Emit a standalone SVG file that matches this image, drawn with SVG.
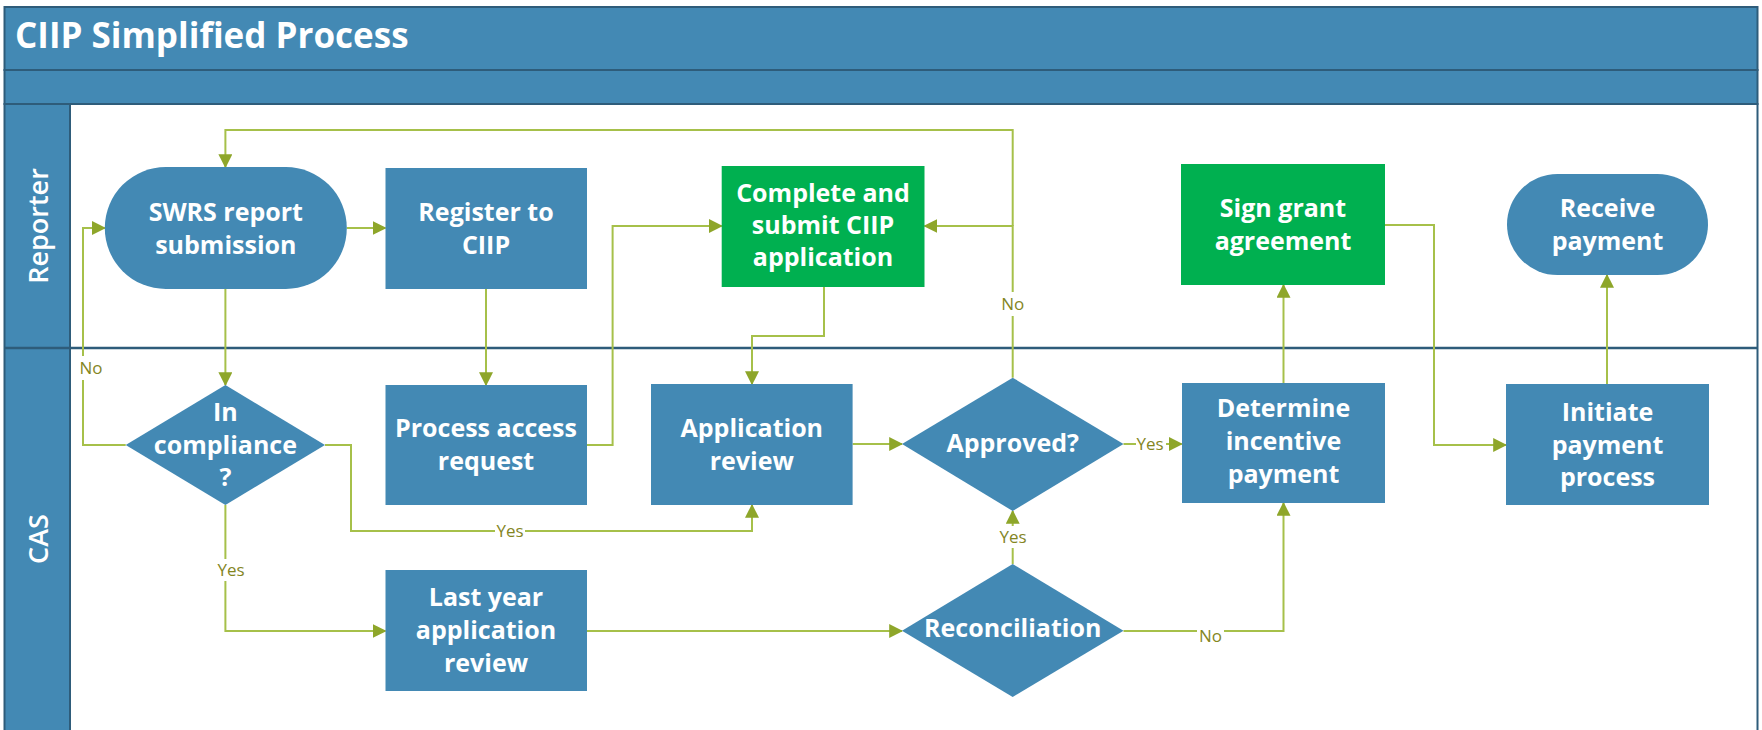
<svg xmlns="http://www.w3.org/2000/svg" width="1762" height="730" viewBox="0 0 1762 730">
<style>
.band{fill:#4389B4;stroke:#2E5C7A;stroke-width:2}
.node{fill:#4389B4}
.green{fill:#00B050}
.nt{font-family:"Open Sans","Liberation Sans",sans-serif;font-weight:bold;font-size:25px;fill:#fff;text-anchor:middle}
.lane{font-family:"Open Sans","Liberation Sans",sans-serif;font-weight:600;font-size:27px;fill:#fff;text-anchor:middle}
.title{font-family:"Open Sans","Liberation Sans",sans-serif;font-weight:bold;font-size:35px;fill:#fff}
.c{fill:none;stroke:#A6C04A;stroke-width:2}
.lbl{font-family:"Open Sans","Liberation Sans",sans-serif;font-size:17px;fill:#84861F;text-anchor:middle}
.lb{fill:#fff}
</style>
<defs>
<marker id="arr" markerUnits="userSpaceOnUse" markerWidth="14" markerHeight="14" viewBox="0 0 12 12" refX="11" refY="6" orient="auto">
<path d="M0,0 L12,6 L0,12 Z" fill="#8EA62A"/>
</marker>
</defs>
<rect width="1762" height="730" fill="#fff"/>
<g id="frame">
<rect class="band" x="4.5" y="7" width="1753" height="63"/>
<text class="title" x="15" y="48">CIIP Simplified Process</text>
<rect class="band" x="4.5" y="70" width="1753" height="34"/>
<rect x="70" y="104" width="1687.5" height="630" fill="#fff" stroke="#2E5C7A" stroke-width="2"/>
<rect class="band" x="4.5" y="104" width="65.5" height="630"/>
<line x1="4.5" y1="348" x2="1757.5" y2="348" stroke="#2E5C7A" stroke-width="2.5"/>
<text class="lane" transform="translate(48,226) rotate(-90)">Reporter</text>
<text class="lane" transform="translate(48,539) rotate(-90)">CAS</text>
</g>
<g id="connectors">
<path class="c" d="M1012.7,377.7 V226 H924.5" marker-end="url(#arr)"/>
<path class="c" d="M1012.7,226 V130 H225.4 V167" marker-end="url(#arr)"/>
<path class="c" d="M225.4,289 V385" marker-end="url(#arr)"/>
<path class="c" d="M346.8,228 H385.5" marker-end="url(#arr)"/>
<path class="c" d="M125.7,445 H83 V228 H104.8" marker-end="url(#arr)"/>
<path class="c" d="M486,289 V385" marker-end="url(#arr)"/>
<path class="c" d="M587,445 H612.6 V226 H721.7" marker-end="url(#arr)"/>
<path class="c" d="M824,287 V336 H752 V384" marker-end="url(#arr)"/>
<path class="c" d="M325,445 H351 V531 H752 V505" marker-end="url(#arr)"/>
<path class="c" d="M225.4,505 V631 H385.5" marker-end="url(#arr)"/>
<path class="c" d="M852.6,444 H902" marker-end="url(#arr)"/>
<path class="c" d="M1123.5,444 H1181.7" marker-end="url(#arr)"/>
<path class="c" d="M587,631 H902" marker-end="url(#arr)"/>
<path class="c" d="M1012.7,564 V511" marker-end="url(#arr)"/>
<path class="c" d="M1123.5,631 H1283.5 V503" marker-end="url(#arr)"/>
<path class="c" d="M1283.5,383 V285" marker-end="url(#arr)"/>
<path class="c" d="M1385,225 H1434 V445 H1506" marker-end="url(#arr)"/>
<path class="c" d="M1607,384 V275" marker-end="url(#arr)"/>
<rect class="lb" x="78" y="356" width="26" height="24"/>
<text class="lbl" x="91" y="374">No</text>
<rect class="lb" x="999" y="292" width="27" height="24"/>
<text class="lbl" x="1012.7" y="310">No</text>
<rect class="lb" x="495" y="520" width="30" height="22"/>
<text class="lbl" x="510" y="537">Yes</text>
<rect class="lb" x="216" y="559" width="30" height="22"/>
<text class="lbl" x="231" y="576">Yes</text>
<rect class="lb" x="1136" y="434" width="30" height="20"/>
<text class="lbl" x="1150" y="450">Yes</text>
<rect class="lb" x="998" y="526" width="30" height="22"/>
<text class="lbl" x="1013" y="543">Yes</text>
<rect class="lb" x="1197" y="625" width="27" height="22"/>
<text class="lbl" x="1210.5" y="642">No</text>
</g>
<g id="swrs">
<rect class="node" x="104.8" y="167" width="242" height="122" rx="61"/>
<text class="nt" x="225.8" y="221">SWRS report<tspan x="225.8" dy="33">submission</tspan></text>
</g>
<g id="register">
<rect class="node" x="385.5" y="168" width="201.5" height="121"/>
<text class="nt" x="486" y="221">Register to<tspan x="486" dy="33">CIIP</tspan></text>
</g>
<g id="complete">
<rect class="green" x="721.7" y="166" width="202.8" height="121"/>
<text class="nt" x="823" y="202">Complete and<tspan x="823" dy="32">submit CIIP</tspan><tspan x="823" dy="32">application</tspan></text>
</g>
<g id="sign">
<rect class="green" x="1181" y="164" width="204" height="121"/>
<text class="nt" x="1283" y="217">Sign grant<tspan x="1283" dy="33">agreement</tspan></text>
</g>
<g id="receive">
<rect class="node" x="1507" y="174" width="201" height="101" rx="50.5"/>
<text class="nt" x="1607.5" y="217">Receive<tspan x="1607.5" dy="33">payment</tspan></text>
</g>
<g id="compliance">
<polygon class="node" points="225.4,385 325,445 225.4,505 125.7,445"/>
<text class="nt" x="225.4" y="421">In<tspan x="225.4" dy="33">compliance</tspan><tspan x="225.4" dy="32">?</tspan></text>
</g>
<g id="process">
<rect class="node" x="385.5" y="385" width="201.5" height="120"/>
<text class="nt" x="486" y="437">Process access<tspan x="486" dy="33">request</tspan></text>
</g>
<g id="appreview">
<rect class="node" x="651" y="384" width="201.6" height="121"/>
<text class="nt" x="751.8" y="437">Application<tspan x="751.8" dy="33">review</tspan></text>
</g>
<g id="approved">
<polygon class="node" points="1012.7,377.7 1123.5,444 1012.7,511 902,444"/>
<text class="nt" x="1012.7" y="452">Approved?</text>
</g>
<g id="determine">
<rect class="node" x="1182" y="383" width="203" height="120"/>
<text class="nt" x="1283.5" y="417">Determine<tspan x="1283.5" dy="33">incentive</tspan><tspan x="1283.5" dy="33">payment</tspan></text>
</g>
<g id="initiate">
<rect class="node" x="1506" y="384" width="203" height="121"/>
<text class="nt" x="1607.5" y="421">Initiate<tspan x="1607.5" dy="33">payment</tspan><tspan x="1607.5" dy="32">process</tspan></text>
</g>
<g id="lastyear">
<rect class="node" x="385.5" y="570" width="201.5" height="121"/>
<text class="nt" x="486" y="606">Last year<tspan x="486" dy="33">application</tspan><tspan x="486" dy="33">review</tspan></text>
</g>
<g id="reconciliation">
<polygon class="node" points="1012.7,564 1123.5,630.7 1012.7,697 902,630.7"/>
<text class="nt" x="1012.7" y="637">Reconciliation</text>
</g>
</svg>
